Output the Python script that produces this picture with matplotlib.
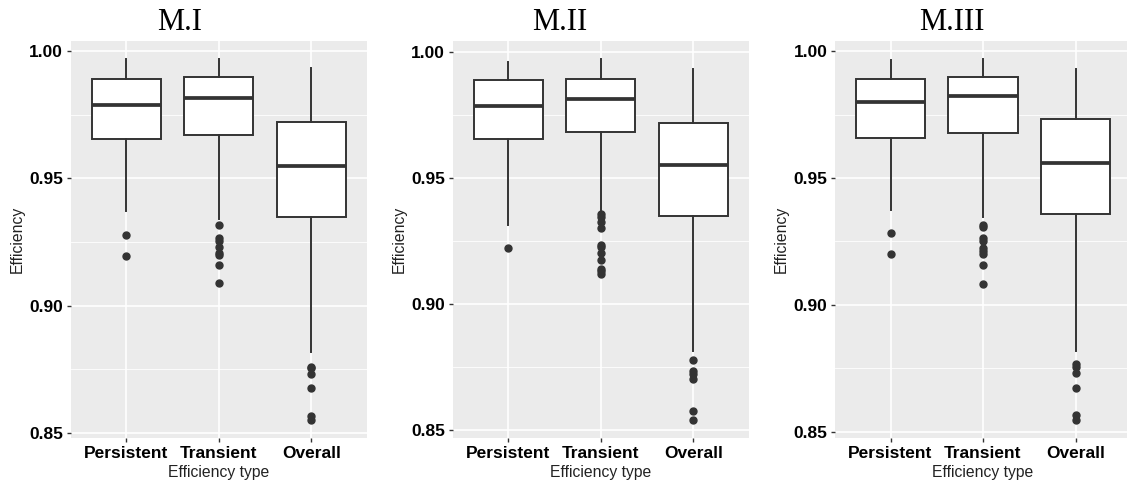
import matplotlib
matplotlib.use("Agg")
import matplotlib.pyplot as plt
from matplotlib.ticker import MultipleLocator, FormatStrFormatter

plt.rcParams["font.family"] = ["Liberation Sans", "DejaVu Sans"]

panel_titles = ["M.I", "M.II", "M.III"]
eff_types = ["Persistent", "Transient", "Overall"]

# one row per panel, one value per efficiency type
upper_whisker = [[0.9971, 0.9971, 0.9934],
                 [0.9962, 0.9973, 0.9934],
                 [0.9967, 0.9970, 0.9928]]
q3 = [[0.9892, 0.9900, 0.9724],
      [0.9887, 0.9894, 0.9718],
      [0.9891, 0.9898, 0.9731]]
median = [[0.9791, 0.9816, 0.9548],
          [0.9785, 0.9814, 0.9549],
          [0.9799, 0.9825, 0.9560]]
q1 = [[0.9656, 0.9673, 0.9348],
      [0.9653, 0.9681, 0.9347],
      [0.9656, 0.9678, 0.9358]]
lower_whisker = [[0.9373, 0.9341, 0.8818],
                 [0.9312, 0.9368, 0.8811],
                 [0.9373, 0.9347, 0.8818]]
outliers = [
    [[0.9279, 0.9195],
     [0.9318, 0.9264, 0.9253, 0.9229, 0.9207, 0.9200, 0.9158, 0.9088],
     [0.8759, 0.8753, 0.8730, 0.8677, 0.8566, 0.8550]],
    [[0.9220],
     [0.9356, 0.9346, 0.9324, 0.9300, 0.9234, 0.9226, 0.9200, 0.9174, 0.9139, 0.9130, 0.9118],
     [0.8777, 0.8734, 0.8720, 0.8699, 0.8574, 0.8538]],
    [[0.9284, 0.9201],
     [0.9314, 0.9306, 0.9264, 0.9253, 0.9225, 0.9214, 0.9199, 0.9158, 0.9082],
     [0.8765, 0.8755, 0.8732, 0.8673, 0.8566, 0.8546]],
]

W, H = 1127, 484
fig = plt.figure(figsize=(W / 100, H / 100), dpi=100)

panel_left = [70.7, 452.7, 835]
title_x = [180, 560, 952]
top, bottom, width = 40.7, 438, 296
dark = "#333333"

for i in range(3):
    ax = fig.add_axes([panel_left[i] / W, (H - bottom) / H, width / W, (bottom - top) / H])
    stats = []
    for j in range(3):
        stats.append(dict(whislo=lower_whisker[i][j], q1=q1[i][j], med=median[i][j],
                          q3=q3[i][j], whishi=upper_whisker[i][j], fliers=outliers[i][j]))
    ax.bxp(stats, positions=[1, 2, 3], widths=0.75, showcaps=False, patch_artist=True,
           boxprops=dict(facecolor="white", edgecolor=dark, linewidth=1.4),
           medianprops=dict(color=dark, linewidth=2.7),
           whiskerprops=dict(color=dark, linewidth=1.4),
           flierprops=dict(marker="o", markerfacecolor=dark, markeredgecolor=dark, markersize=5))

    # ggplot-like limits: 5% expansion of data range
    lo = min(min(lower_whisker[i]), min(min(o) for o in outliers[i]))
    hi = max(upper_whisker[i])
    pad = 0.05 * (hi - lo)
    ax.set_ylim(lo - pad, hi + pad)
    ax.set_xlim(0.4, 3.6)

    ax.set_facecolor("#EBEBEB")
    for s in ax.spines.values():
        s.set_visible(False)
    ax.set_axisbelow(True)
    ax.yaxis.set_major_locator(MultipleLocator(0.05))
    ax.yaxis.set_minor_locator(MultipleLocator(0.025))
    ax.yaxis.set_major_formatter(FormatStrFormatter("%.2f"))
    ax.grid(True, which="major", color="white", linewidth=1.2)
    ax.grid(True, which="minor", axis="y", color="white", linewidth=0.6)
    ax.tick_params(which="minor", length=0)
    ax.tick_params(which="major", length=3, width=1, color=dark, pad=2.5)
    ax.set_xticks([1, 2, 3])
    ax.set_xticklabels(eff_types)
    for lab in ax.get_xticklabels() + ax.get_yticklabels():
        lab.set_fontweight("bold")
        lab.set_fontsize(12.5)
        lab.set_color("black")

    ax.set_ylabel("Efficiency", fontsize=11.3, color="#222222")
    ax.yaxis.label.set_va("center")
    ax.yaxis.set_label_coords(-0.182, 0.5)
    ax.set_xlabel("Efficiency type", fontsize=11.3, color="#222222")
    ax.xaxis.label.set_va("center")
    ax.xaxis.set_label_coords(0.5, -0.088)

    fig.text(title_x[i] / W, 1 - 23 / H, panel_titles[i], ha="center", va="center",
             fontsize=22, family="Liberation Serif")

fig.savefig("out.png", dpi=100)
